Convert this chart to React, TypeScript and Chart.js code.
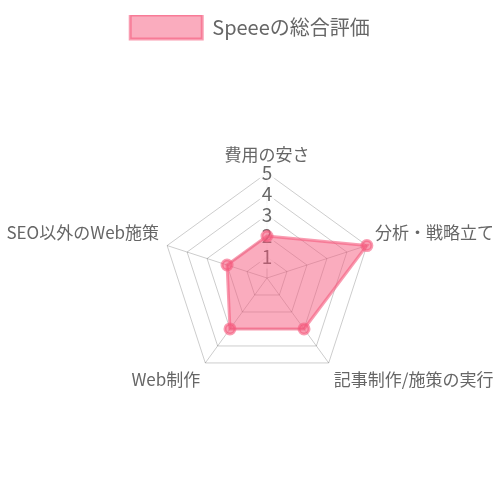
import { useEffect, useRef } from "react";
import Chart from "chart.js/auto";

const labels = [
  "費用の安さ",
  "分析・戦略立て",
  "記事制作/施策の実行",
  "Web制作",
  "SEO以外のWeb施策",
];
const scores = [2, 5, 3, 3, 2];
const seriesName = "Speeeの総合評価";

export default function App() {
  const canvasRef = useRef<HTMLCanvasElement>(null);

  useEffect(() => {
    if (!canvasRef.current) return;
    Chart.defaults.font.family = "'Noto Sans CJK JP', 'Noto Sans', sans-serif";
    Chart.defaults.color = "#666";

    const chart = new Chart(canvasRef.current, {
      type: "radar",
      data: {
        labels,
        datasets: [
          {
            label: seriesName,
            data: scores,
            backgroundColor: "rgba(245, 90, 125, 0.5)",
            borderColor: "rgba(245, 90, 125, 0.6)",
            borderWidth: 3,
            pointBackgroundColor: "rgba(245, 90, 125, 0.6)",
            pointBorderColor: "rgba(245, 90, 125, 0.6)",
            pointRadius: 5,
          },
        ],
      },
      options: {
        animation: false,
        responsive: false,
        layout: { padding: { top: 15, bottom: 8 } },
        plugins: {
          legend: {
            position: "top",
            labels: {
              boxWidth: 72,
              boxHeight: 24,
              font: { size: 20 },
              padding: 0,
            },
          },
        },
        scales: {
          r: {
            min: 0,
            max: 5,
            ticks: { stepSize: 1, font: { size: 19 }, color: "#666" },
            grid: { color: "rgba(0,0,0,0.2)" },
            angleLines: { color: "rgba(0,0,0,0.2)" },
            pointLabels: { font: { size: 17 }, color: "#666", padding: -3 },
          },
        },
      },
    });

    return () => chart.destroy();
  }, []);

  return (
    <div style={{ position: "absolute", left: 0, top: 0, width: 500, height: 500, overflow: "hidden" }}>
      <canvas ref={canvasRef} width={500} height={500} />
    </div>
  );
}
